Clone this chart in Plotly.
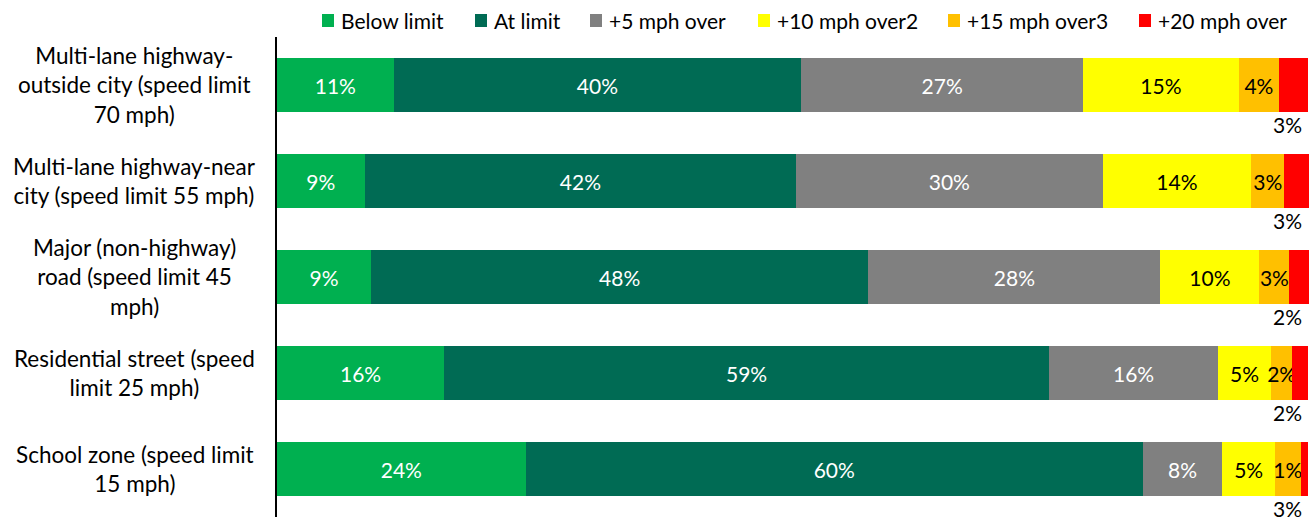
import plotly.graph_objects as go

categories = [
    "Multi-lane highway-<br>outside city (speed limit<br>70 mph)",
    "Multi-lane highway-near<br>city (speed limit 55 mph)",
    "Major (non-highway)<br>road (speed limit 45<br>mph)",
    "Residential street (speed<br>limit 25 mph)",
    "School zone (speed limit<br>15 mph)",
]
series_names = ["Below limit", "At limit", "+5 mph over", "+10 mph over2", "+15 mph over3", "+20 mph over"]
below_limit = [11.3, 8.5, 9.1, 16.2, 24.1]
at_limit = [39.5, 41.8, 48.2, 58.6, 59.8]
over5 = [27.3, 29.7, 28.3, 16.4, 7.7]
over10 = [15.1, 14.4, 9.6, 5.1, 5.1]
over15 = [3.9, 3.2, 2.9, 2.1, 2.5]
over20 = [2.8, 2.4, 1.9, 1.5, 0.7]
labels_below = ["11%", "9%", "9%", "16%", "24%"]
labels_at = ["40%", "42%", "48%", "59%", "60%"]
labels_5 = ["27%", "30%", "28%", "16%", "8%"]
labels_10 = ["15%", "14%", "10%", "5%", "5%"]
labels_15 = ["4%", "3%", "3%", "2%", "1%"]
labels_20 = ["3%", "3%", "2%", "2%", "3%"]

colors = ["#00B050", "#006B54", "#808080", "#FFFF00", "#FFC000", "#FF0000"]
text_colors = ["white", "white", "white", "black", "black", "black"]
values = [below_limit, at_limit, over5, over10, over15, over20]
texts = [labels_below, labels_at, labels_5, labels_10, labels_15, None]

FONT = "Lato, Carlito, DejaVu Sans, sans-serif"
fig = go.Figure()
for name, vals, col, tcol, txt in zip(series_names, values, colors, text_colors, texts):
    fig.add_trace(go.Bar(
        y=categories, x=vals, name=name, orientation="h",
        marker=dict(color=col, line=dict(width=0)),
        text=txt, textposition="inside" if txt else "none",
        insidetextanchor="middle", constraintext="none", textangle=0,
        textfont=dict(color=tcol, size=21, family=FONT),
        hoverinfo="skip", showlegend=False,
    ))

annotations = []
# category labels (centered multi-line)
for cat in categories:
    annotations.append(dict(
        x=-0.1376, xref="paper", y=cat, yref="y", text=cat, showarrow=False,
        xanchor="center", yanchor="middle", align="center",
        font=dict(size=22.5, family=FONT, color="black"),
    ))
# +20 mph labels below bars
for cat, lab in zip(categories, labels_20):
    annotations.append(dict(
        x=100, xref="x", y=cat, yref="y", text=lab, showarrow=False,
        xanchor="right", yanchor="middle", xshift=-5, yshift=-39,
        font=dict(size=21, family=FONT, color="black"),
    ))

# custom legend
legend_px = [322, 475, 590, 758, 948, 1139]
shapes = []
L, W, T, H = 277, 1032, 37, 480
for name, col, px in zip(series_names, colors, legend_px):
    x0 = (px - L) / W
    x1 = (px + 12 - L) / W
    y0 = (T + H - 27) / H
    y1 = (T + H - 14) / H
    shapes.append(dict(type="rect", xref="paper", yref="paper", x0=x0, x1=x1, y0=y0, y1=y1,
                       fillcolor=col, line=dict(width=0)))
    annotations.append(dict(
        x=(px + 17 - L) / W, xref="paper", y=(T + H - 20) / H, yref="paper", text=name,
        showarrow=False, xanchor="left", yanchor="middle",
        font=dict(size=21, family=FONT, color="black"),
    ))

fig.update_layout(
    barmode="stack", bargap=0.4375,
    width=1315, height=529,
    margin=dict(l=277, r=6, t=37, b=12),
    plot_bgcolor="white", paper_bgcolor="white",
    xaxis=dict(range=[0, 100], visible=False, fixedrange=True),
    yaxis=dict(range=[4.5, -0.5], showticklabels=False, ticks="", fixedrange=True,
               showline=True, linecolor="black", linewidth=1.5, showgrid=False, zeroline=False),
    annotations=annotations, shapes=shapes,
    font=dict(family=FONT),
)
fig.write_html("out.html", config={"displayModeBar": False},
               post_script="document.body.style.margin='0';document.body.style.overflow='hidden';")
